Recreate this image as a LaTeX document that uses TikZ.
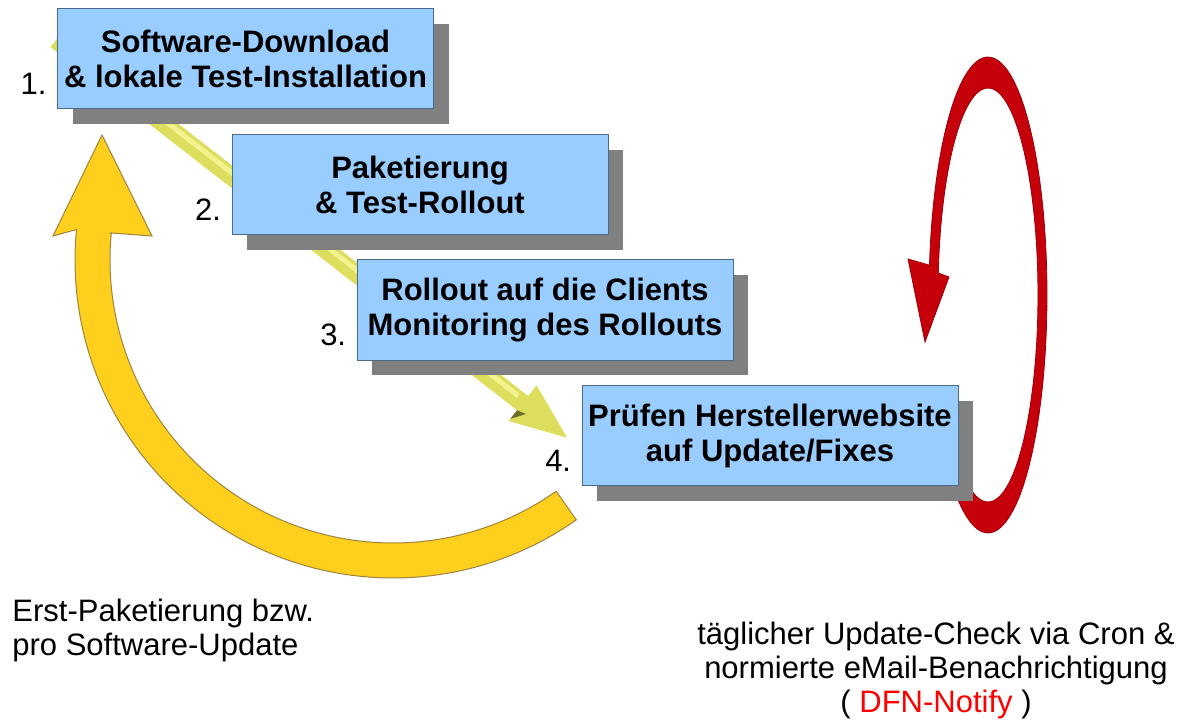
\documentclass[tikz,border=0pt]{standalone}
\usepackage{fontspec}
\setmainfont{Liberation Sans}
\usetikzlibrary{calc, shadows, arrows.meta}
\definecolor{boxblue}{HTML}{99CCFF}
\definecolor{boxline}{HTML}{4A6A8A}
\definecolor{shadowgray}{HTML}{808080}
\definecolor{diagyel}{HTML}{DEDE5E}
\definecolor{diaghi}{HTML}{F2F28E}
\definecolor{diagdark}{HTML}{6E6E2A}
\definecolor{arrowgold}{HTML}{FFCF1E}
\definecolor{goldline}{HTML}{9C8440}
\definecolor{loopred}{HTML}{C5000B}
\definecolor{notifyred}{HTML}{FF0000}

\begin{document}
\begin{tikzpicture}[x=0.5pt,y=-0.5pt,
    stepbox/.style={rectangle, fill=boxblue, draw=boxline, line width=0.5pt,
        minimum width=188pt, minimum height=50pt, inner sep=0pt, align=center,
        font=\fontsize{15.5}{17.5}\selectfont\bfseries,
        drop shadow={shadow xshift=7.5pt, shadow yshift=-7.5pt, fill=shadowgray, opacity=1}},
    num/.style={inner sep=0pt, anchor=base east, font=\fontsize{15.5}{17}\selectfont},
    note/.style={inner sep=0pt, font=\fontsize{15.5}{17}\selectfont}]
    \useasboundingbox (0,0) rectangle (1183,727);

    % diagonal arrow behind the steps
    \coordinate (dstart) at (56,40);
    \coordinate (dtip) at (570,440);
    \draw[line width=9pt, diagyel, -{Triangle[length=30pt,width=20pt]}] (dstart) -- (dtip);
    \draw[line width=2.5pt, diaghi, shorten >=34pt, transform canvas={xshift=1pt,yshift=1.2pt}] (dstart) -- (dtip);
    \fill[diagdark] (510.3,418.9) -- (517.1,410.2) -- (526,414) -- cycle;

    % red loop on the right
    \filldraw[fill=loopred, draw=loopred!80!black, line width=0.4pt]
        plot[domain=135:-172.8, samples=80] ({988+59*cos(\x)},{295+238*sin(\x)})
        -- (908,259) -- (925,342) -- (949,277)
        -- plot[domain=-173.9:135, samples=80] ({988+50*cos(\x)},{295+207*sin(\x)}) -- cycle;

    % big arrow back to the start
    \filldraw[fill=arrowgold, draw=goldline, line width=0.5pt]
        (76.5,229.5) -- (53,236) -- (102,135) -- (152,236) -- (111,233)
        -- plot[domain=185.5:54.8, samples=80] ({393+283*cos(\x)},{260+283*sin(\x)})
        -- plot[domain=54.8:185.5, samples=80] ({393+318*cos(\x)},{260+318*sin(\x)}) -- cycle;

    \node[stepbox] (b1) at (245.5,59) {Software-Download\\\& lokale Test-Installation};
    \node[stepbox] (b2) at (420,185) {Paketierung\\\& Test-Rollout};
    \node[stepbox] (b3) at (545,310) {Rollout auf die Clients\\Monitoring des Rollouts};
    \node[stepbox] (b4) at (770,435.5) {Prüfen Herstellerwebsite\\auf Update/Fixes};

    \foreach \i in {1,...,4}
        \node[num] (n\i) at ([xshift=-5pt,yshift=7.5pt]b\i.south west) {\i.};

    \node[note, anchor=north west, align=left] (erst) at (12,599) {Erst-Paketierung bzw.\\pro Software-Update};
    \node[note, anchor=north, align=center] (cron) at (936,622)
        {täglicher Update-Check via Cron \&\\normierte eMail-Benachrichtigung\\( \textcolor{notifyred}{DFN-Notify} )};
\end{tikzpicture}
\end{document}
